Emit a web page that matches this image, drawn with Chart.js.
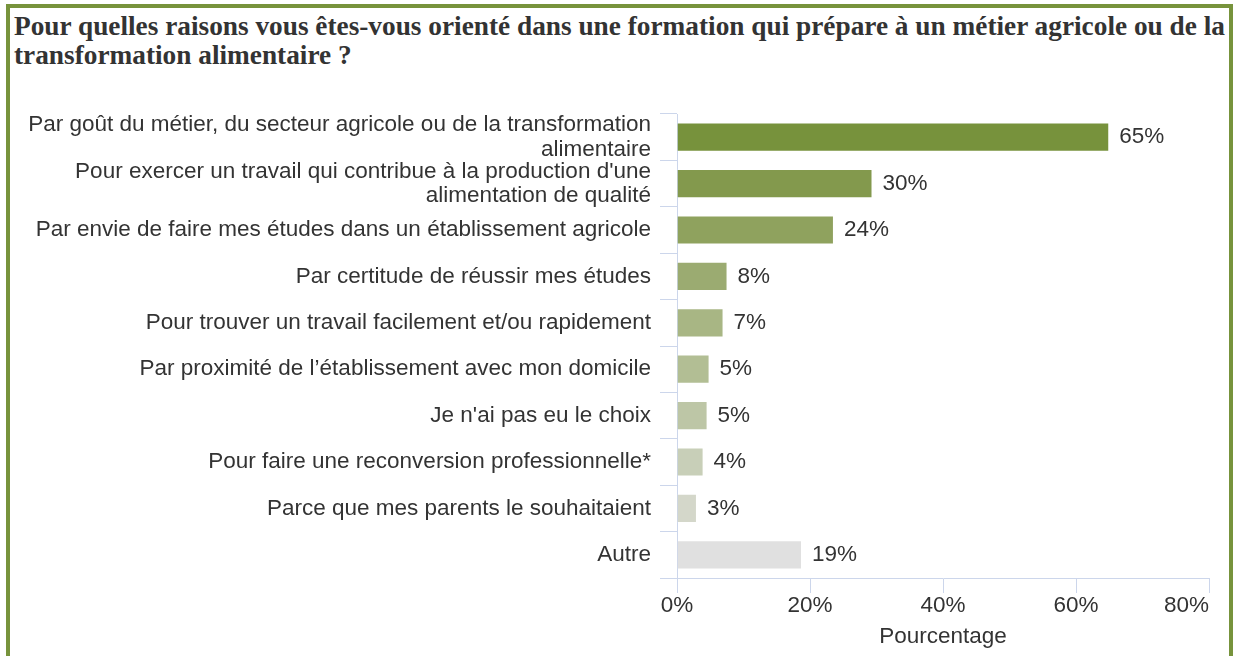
<!DOCTYPE html>
<html>
<head>
<meta charset="utf-8">
<script src="https://cdn.jsdelivr.net/npm/chart.js@4"></script>
<style>
  html, body { margin: 0; padding: 0; background: #fff; }
  body { width: 1236px; height: 656px; position: relative; overflow: hidden; }
  .frame {
    position: absolute; left: 6px; top: 4px; width: 1219px; height: 700px;
    border: 4px solid #77933c;
  }
  .title {
    position: absolute; left: 14px; top: 12px;
    font-family: "Liberation Serif", "Times New Roman", serif;
    font-weight: bold; font-size: 27.3px; line-height: 29px; color: #333;
    white-space: nowrap;
  }
  #myChart { position: absolute; left: 0; top: 0; }
</style>
</head>
<body>
<div class="frame"></div>
<div class="title">Pour quelles raisons vous êtes-vous orienté dans une formation qui prépare à un métier agricole ou de la<br>transformation alimentaire ?</div>
<canvas id="myChart" width="1236" height="656"></canvas>
<script>
//chart data
const categories = [
  ["Par goût du métier, du secteur agricole ou de la transformation", "alimentaire"],
  ["Pour exercer un travail qui contribue à la production d'une", "alimentation de qualité"],
  "Par envie de faire mes études dans un établissement agricole",
  "Par certitude de réussir mes études",
  "Pour trouver un travail facilement et/ou rapidement",
  "Par proximité de l’établissement avec mon domicile",
  "Je n'ai pas eu le choix",
  "Pour faire une reconversion professionnelle*",
  "Parce que mes parents le souhaitaient",
  "Autre"
];
const percentages = [65, 29.4, 23.6, 7.6, 7.0, 4.9, 4.6, 4.0, 3.0, 18.8];
const valueLabels = ["65%", "30%", "24%", "8%", "7%", "5%", "5%", "4%", "3%", "19%"];
const xTicks = [0, 20, 40, 60, 80];

//bar colours, dark green fading to grey
const barColors = ["#77923c", "#83994d", "#8fa25e", "#9bab71", "#a8b684",
                   "#b2be94", "#bdc6a6", "#c8cfb8", "#d4d7ca", "#e0e0e0"];

const axisColor = "#ccd6eb";
const fontFamily = "'Liberation Sans', Arial, sans-serif";
Chart.defaults.font.family = fontFamily;
Chart.defaults.font.size = 22.5;
Chart.defaults.color = "#333";

//draws the % text at the end of each bar + the x tick labels (last one kept inside)
const labelPlugin = {
  id: "valueLabels",
  afterDraw(chart) {
    const ctx = chart.ctx;
    const meta = chart.getDatasetMeta(0);
    const xScale = chart.scales.x;
    ctx.save();
    ctx.font = "22.5px " + fontFamily;
    ctx.fillStyle = "#333";
    ctx.textBaseline = "middle";
    ctx.textAlign = "left";
    meta.data.forEach((bar, i) => {
      ctx.fillText(valueLabels[i], bar.x + 10, bar.y);
    });
    xTicks.forEach((v, i) => {
      ctx.textAlign = i === xTicks.length - 1 ? "right" : "center";
      ctx.fillText(v + "%", xScale.getPixelForValue(v), xScale.top + 28);
    });
    ctx.restore();
  }
};

const config = {
  type: "bar",
  data: {
    labels: categories,
    datasets: [{
      data: percentages,
      backgroundColor: barColors,
      borderColor: "rgba(255,255,255,0.45)",
      borderWidth: 1,
      barPercentage: 0.63,
      categoryPercentage: 1
    }]
  },
  options: {
    indexAxis: "y",
    responsive: false,
    animation: false,
    layout: { padding: { left: 0, top: 114, right: 27, bottom: 0 } },
    plugins: { legend: { display: false }, tooltip: { enabled: false } },
    scales: {
      y: {
        afterFit(scale) { scale.width = 677; },
        grid: { drawOnChartArea: false, color: axisColor, tickLength: 17, offset: true },
        border: { color: axisColor },
        ticks: { autoSkip: false, padding: 9, font: { size: 22.5, lineHeight: 1.08 }, color: "#333" }
      },
      x: {
        min: 0,
        max: 80,
        afterFit(scale) { scale.height = 78; },
        afterBuildTicks(scale) { scale.ticks = xTicks.map(v => ({ value: v })); },
        grid: { drawOnChartArea: false, color: axisColor, tickLength: 15 },
        border: { color: axisColor },
        ticks: { display: false },
        title: { display: true, text: "Pourcentage", color: "#333", font: { size: 22.5 }, padding: { top: 0, bottom: 6 } }
      }
    }
  },
  plugins: [labelPlugin]
};

const myChart = new Chart(document.getElementById("myChart"), config);
</script>
</body>
</html>
